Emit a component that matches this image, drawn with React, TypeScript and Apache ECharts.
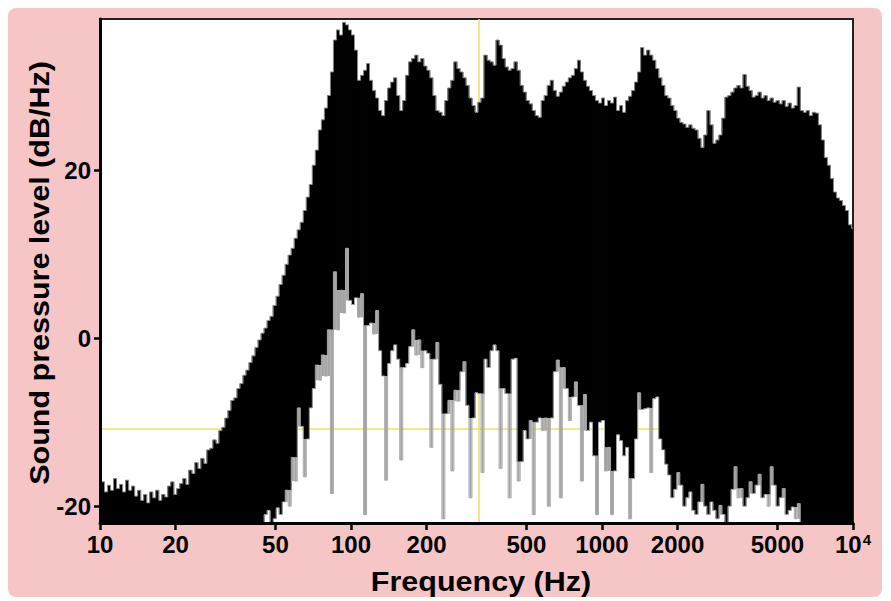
import React, { useEffect, useRef } from 'react';
import * as echarts from 'echarts';

// Spectrum bins: centre of each bin, in log10(frequency / Hz)
const binLogHz = [
  1.000, 1.012, 1.024, 1.036, 1.048, 1.060, 1.072, 1.084, 1.096, 1.108,
  1.120, 1.132, 1.144, 1.156, 1.168, 1.180, 1.192, 1.204, 1.216, 1.228,
  1.240, 1.252, 1.264, 1.276, 1.288, 1.300, 1.312, 1.324, 1.336, 1.348,
  1.360, 1.372, 1.384, 1.396, 1.408, 1.420, 1.432, 1.444, 1.456, 1.468,
  1.480, 1.492, 1.504, 1.516, 1.528, 1.540, 1.552, 1.564, 1.576, 1.588,
  1.600, 1.612, 1.624, 1.636, 1.648, 1.660, 1.672, 1.684, 1.696, 1.708,
  1.720, 1.732, 1.744, 1.756, 1.768, 1.780, 1.792, 1.804, 1.816, 1.828,
  1.840, 1.852, 1.864, 1.876, 1.888, 1.900, 1.912, 1.924, 1.936, 1.948,
  1.960, 1.972, 1.984, 1.996, 2.008, 2.020, 2.032, 2.044, 2.056, 2.068,
  2.080, 2.092, 2.104, 2.116, 2.128, 2.140, 2.152, 2.164, 2.176, 2.188,
  2.200, 2.212, 2.224, 2.236, 2.248, 2.260, 2.272, 2.284, 2.296, 2.308,
  2.320, 2.332, 2.344, 2.356, 2.368, 2.380, 2.392, 2.404, 2.416, 2.428,
  2.440, 2.452, 2.464, 2.476, 2.488, 2.500, 2.512, 2.524, 2.536, 2.548,
  2.560, 2.572, 2.584, 2.596, 2.608, 2.620, 2.632, 2.644, 2.656, 2.668,
  2.680, 2.692, 2.704, 2.716, 2.728, 2.740, 2.752, 2.764, 2.776, 2.788,
  2.800, 2.812, 2.824, 2.836, 2.848, 2.860, 2.872, 2.884, 2.896, 2.908,
  2.920, 2.932, 2.944, 2.956, 2.968, 2.980, 2.992, 3.004, 3.016, 3.028,
  3.040, 3.052, 3.064, 3.076, 3.088, 3.100, 3.112, 3.124, 3.136, 3.148,
  3.160, 3.172, 3.184, 3.196, 3.208, 3.220, 3.232, 3.244, 3.256, 3.268,
  3.280, 3.292, 3.304, 3.316, 3.328, 3.340, 3.352, 3.364, 3.376, 3.388,
  3.400, 3.412, 3.424, 3.436, 3.448, 3.460, 3.472, 3.484, 3.496, 3.508,
  3.520, 3.532, 3.544, 3.556, 3.568, 3.580, 3.592, 3.604, 3.616, 3.628,
  3.640, 3.652, 3.664, 3.676, 3.688, 3.700, 3.712, 3.724, 3.736, 3.748,
  3.760, 3.772, 3.784, 3.796, 3.808, 3.820, 3.832, 3.844, 3.856, 3.868,
  3.880, 3.892, 3.904, 3.916, 3.928, 3.940, 3.952, 3.964, 3.976, 3.988,
  4.000,
];

// Upper envelope of the spectrum (dB/Hz)
const upperDb = [
  -17.9, -17.1, -18.3, -17.5, -18.1, -16.7, -17.9, -17.4, -18.3, -16.9,
  -18.1, -17.6, -18.8, -18.1, -19.3, -18.6, -19.6, -18.3, -19.0, -18.1,
  -19.3, -18.6, -18.9, -17.6, -17.1, -18.6, -17.9, -17.3, -16.7, -17.4,
  -15.7, -16.1, -14.8, -15.5, -14.3, -14.9, -13.3, -13.1, -12.1, -12.5,
  -11.0, -10.6, -9.5, -8.6, -7.4, -7.1, -6.0, -5.4, -4.4, -3.8,
  -2.9, -2.1, -1.1, -0.2, 0.6, 1.2, 2.1, 2.6, 3.9, 5.0,
  6.4, 7.5, 8.8, 9.9, 10.7, 11.9, 12.9, 13.8, 15.2, 16.8,
  18.3, 20.6, 22.4, 24.8, 26.0, 27.4, 28.9, 31.7, 35.5, 36.7,
  36.1, 37.6, 37.3, 36.7, 36.1, 34.3, 30.7, 31.3, 31.9, 32.7,
  30.7, 29.5, 28.6, 27.1, 26.5, 28.3, 29.8, 30.5, 31.0, 28.9,
  27.1, 28.3, 31.3, 32.9, 33.3, 33.7, 32.9, 33.3, 32.4, 31.9,
  31.0, 28.9, 27.1, 26.9, 26.5, 28.3, 29.8, 30.7, 32.9, 32.1,
  31.7, 31.0, 30.1, 28.6, 27.7, 26.9, 28.1, 28.6, 33.7, 33.1,
  32.9, 32.5, 35.5, 34.9, 33.3, 32.3, 31.9, 32.1, 32.9, 31.9,
  30.1, 29.3, 28.3, 27.9, 27.1, 26.5, 26.3, 28.3, 28.9, 30.1,
  30.7, 29.5, 28.8, 29.3, 30.0, 30.5, 31.0, 31.3, 32.1, 33.1,
  31.7, 30.7, 30.0, 29.5, 28.9, 28.3, 28.0, 28.6, 27.7, 28.3,
  28.0, 28.7, 27.1, 27.7, 26.9, 28.3, 28.8, 29.5, 30.5, 31.7,
  34.6, 33.7, 34.3, 33.7, 33.1, 32.1, 31.0, 30.1, 28.9, 28.6,
  27.7, 27.1, 26.2, 25.7, 25.5, 25.1, 25.4, 25.0, 24.8, 23.8,
  22.7, 24.2, 27.1, 25.4, 23.2, 23.6, 24.2, 26.2, 28.7, 28.9,
  29.3, 29.8, 30.1, 29.8, 31.4, 30.0, 29.5, 28.7, 28.9, 29.3,
  28.6, 28.9, 28.3, 28.6, 28.1, 28.3, 27.9, 28.3, 27.6, 28.0,
  27.4, 27.7, 29.9, 27.1, 26.9, 27.1, 26.5, 26.9, 26.8, 25.4,
  23.6, 21.5, 20.6, 19.0, 17.4, 16.7, 16.4, 15.8, 15.2, 13.5,
  13.1,
];

// Lower envelope of the spectrum (dB/Hz); -22 = bottom of the plot
const lowerDb = [
  -22, -22, -22, -22, -22, -22, -22, -22, -22, -22,
  -22, -22, -22, -22, -22, -22, -22, -22, -22, -22,
  -22, -22, -22, -22, -22, -22, -22, -22, -22, -22,
  -22, -22, -22, -22, -22, -22, -22, -22, -22, -22,
  -22, -22, -22, -22, -22, -22, -22, -22, -22, -22,
  -22, -22, -22, -22, -22, -21, -20.5, -22, -21.5, -20.2,
  -21, -19.5, -18.1, -20, -14.2, -17, -8.3, -10.5, -16.5, -12,
  -8.3, -6, -3.2, -5, -2.0, -4.5, 1.0, -18.5, 7.9, 1.0,
  5.7, 3, 10.7, 4.5, 4.0, 4.8, 2.5, 5.3, -21, 1.5,
  1.8, 0.5, 3.3, -1.5, -4.5, -16.9, -3.0, -1.5, -0.8, -2.5,
  -14.5, -3.5, -3.0, -1.0, 1.0, -2, -0.2, -3.5, -1.5, -1.8,
  -13, -2.5, -0.5, -5.5, -21.5, -9.0, -7.4, -15.8, -6.2, -7.5,
  -4.0, -2.8, -8, -19, -9.5, -6.5, -6.6, -16, -2.5, -3.5,
  -1.5, -0.8, -1.5, -15.5, -6.0, -6.6, -19, -2.5, -2.4, -17,
  -14.7, -11.0, -12, -9.8, -21, -10, -9.5, -11, -9.5, -20,
  -9.5, -4, -2.6, -19, -3.5, -6, -9.8, -7, -5.2, -8,
  -17, -6.7, -11, -10.0, -14, -21, -10.0, -9.8, -15.8, -13,
  -21, -15.8, -11.5, -12.2, -14, -13, -21.5, -16.7, -12, -6.5,
  -8.5, -8.4, -8.3, -16, -7.2, -7.0, -12, -13.3, -15, -16.3,
  -19, -18, -16, -17.5, -20, -19, -18.3, -20.5, -21, -19.5,
  -17.4, -20, -21, -19.5, -20.5, -21.5, -19.9, -21, -22, -20,
  -18.0, -15.3, -19, -17.9, -20, -19, -17.1, -18.5, -17.5, -16.2,
  -19, -18.6, -20, -15.3, -17.5, -20, -19, -17.9, -21, -20.5,
  -20.1, -21.5, -19.7, -22, -22, -22, -22, -22, -22, -22,
  -22, -22, -22, -22, -22, -22, -22, -22, -22, -22,
  -22,
];

// Axis ticks
const xTickHz = [10, 20, 50, 100, 200, 500, 1000, 2000, 5000, 10000];
const xTickLabels = ['10', '20', '50', '100', '200', '500', '1000', '2000', '5000', '10{sup|4}'];
const yTicks = [-20, 0, 20];

// Yellow cross-hair (log10 Hz, dB/Hz)
const crossLogHz = 2.506;
const crossDb = -10.8;

const FONT = '"Liberation Sans", Arial, Helvetica, sans-serif';

export default function App() {
  const ref = useRef<HTMLDivElement>(null);

  useEffect(() => {
    if (!ref.current) return;
    const chart = echarts.init(ref.current, undefined, { renderer: 'svg' });
    const n = binLogHz.length;
    const xTickLog = xTickHz.map((h) => Math.log10(h));
    const bandData = binLogHz.map((x, i) => [x, lowerDb[i], upperDb[i], i]);
    const upperLine = binLogHz.map((x, i) => [x, upperDb[i]]);
    const lowerLine = binLogHz.map((x, i) => [x, lowerDb[i]]);

    const renderBin = (params: any, api: any) => {
      const x = api.value(0);
      const lo = api.value(1);
      const hi = api.value(2);
      const i = api.value(3);
      const prev = i > 0 ? binLogHz[i - 1] : x;
      const next = i < n - 1 ? binLogHz[i + 1] : x;
      const half = (next - prev) / (i > 0 && i < n - 1 ? 4 : 2);
      const lPrev = i > 0 ? lowerDb[i - 1] : lo;
      const lNext = i < n - 1 ? lowerDb[i + 1] : lo;
      let blackBottom = lo;
      let grayTop: number | null = null;
      let grayBottom: number | null = null;
      if (lo < Math.min(lPrev, lNext) - 1) {
        blackBottom = Math.min(lPrev, lNext);
        grayTop = blackBottom;
        grayBottom = lo;
      } else if (lo > Math.max(lPrev, lNext) + 1) {
        grayTop = lo;
        grayBottom = Math.max(lPrev, lNext);
      }
      const a = api.coord([x - half, hi]);
      const b = api.coord([x + half, blackBottom]);
      const children: any[] = [
        {
          type: 'rect',
          shape: { x: a[0] - 0.4, y: a[1], width: b[0] - a[0] + 0.8, height: b[1] - a[1] },
          style: { fill: '#000' },
        },
      ];
      if (grayTop !== null && grayBottom !== null) {
        const g1 = api.coord([x, grayTop]);
        const g2 = api.coord([x, grayBottom]);
        children.push({
          type: 'rect',
          shape: { x: g1[0] - 1, y: g1[1], width: 2, height: g2[1] - g1[1] },
          style: { fill: '#a3a3a3' },
        });
      }
      return { type: 'group', children };
    };

    const option = {
      animation: false,
      grid: {
        left: 92,
        top: 11,
        width: 753,
        height: 504,
        show: true,
        backgroundColor: '#ffffff',
        borderColor: '#222',
        borderWidth: 2,
      },
      xAxis: {
        type: 'value',
        min: 1,
        max: 4,
        z: 10,
        axisLine: { show: true, onZero: false, lineStyle: { color: '#000', width: 3 } },
        axisTick: {
          show: true,
          length: 7,
          customValues: xTickLog,
          lineStyle: { color: '#000', width: 2.5 },
        },
        axisLabel: {
          customValues: xTickLog,
          margin: 9,
          color: '#000',
          fontSize: 24,
          fontWeight: 'bold',
          fontFamily: FONT,
          formatter: (v: number) => {
            const i = xTickLog.findIndex((t) => Math.abs(t - v) < 1e-6);
            return i >= 0 ? xTickLabels[i] : '';
          },
          rich: {
            sup: { fontSize: 15, fontWeight: 'bold', fontFamily: FONT, color: '#000', verticalAlign: 'top', padding: [0, 0, 0, 1] },
          },
        },
        splitLine: { show: false },
      },
      yAxis: {
        type: 'value',
        min: -22,
        max: 38,
        z: 10,
        axisLine: { show: true, onZero: false, lineStyle: { color: '#000', width: 3 } },
        axisTick: {
          show: true,
          length: 6,
          customValues: yTicks,
          lineStyle: { color: '#000', width: 2.5 },
        },
        axisLabel: {
          customValues: yTicks,
          margin: 9,
          color: '#000',
          fontSize: 24,
          fontWeight: 'bold',
          fontFamily: FONT,
        },
        splitLine: { show: false },
      },
      graphic: [
        {
          type: 'text',
          x: 473,
          y: 574,
          scaleX: 1.13,
          style: {
            text: 'Frequency (Hz)',
            font: `bold 27px ${FONT}`,
            fill: '#000',
            align: 'center',
            verticalAlign: 'middle',
          },
        },
        {
          type: 'text',
          x: 32,
          y: 265,
          rotation: Math.PI / 2,
          scaleX: 1.13,
          style: {
            text: 'Sound pressure level (dB/Hz)',
            font: `bold 27px ${FONT}`,
            fill: '#000',
            align: 'center',
            verticalAlign: 'middle',
          },
        },
      ],
      series: [
        {
          type: 'custom',
          name: 'spectrum',
          data: bandData,
          renderItem: renderBin,
          encode: { x: 0, y: [1, 2] },
          silent: true,
          clip: true,
          z: 2,
          markLine: {
            silent: true,
            symbol: 'none',
            z: 1,
            label: { show: false },
            lineStyle: { color: '#e8e36a', width: 1.6, type: 'solid' },
            data: [{ xAxis: crossLogHz }, { yAxis: crossDb }],
          },
        },
        {
          type: 'line',
          name: 'upper',
          data: upperLine,
          step: 'middle',
          symbol: 'none',
          silent: true,
          z: 3,
          lineStyle: { color: '#8c8c8c', width: 1 },
        },
        {
          type: 'line',
          name: 'lower',
          data: lowerLine,
          step: 'middle',
          symbol: 'none',
          silent: true,
          z: 3,
          lineStyle: { color: '#a8a8a8', width: 1 },
        },
      ],
    };
    chart.setOption(option as any);
    return () => chart.dispose();
  }, []);

  return (
    <div
      ref={ref}
      style={{ width: 874, height: 589, background: '#f6c6c6', borderRadius: 8 }}
    />
  );
}
